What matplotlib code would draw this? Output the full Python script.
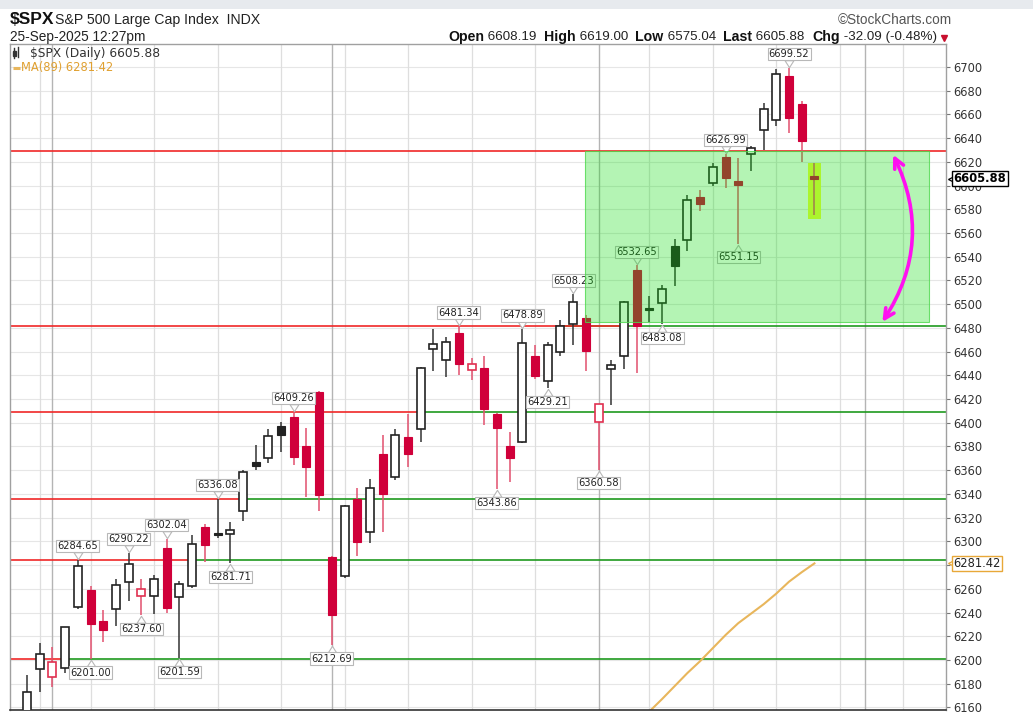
import matplotlib
matplotlib.use('Agg')
import matplotlib.pyplot as plt
import matplotlib.patches as mpatches
import matplotlib.transforms as mtransforms
from matplotlib.path import Path
from matplotlib.lines import Line2D

# ---------------- data ----------------
dates = ['06-27', '06-30', '07-01', '07-02', '07-03', '07-07', '07-08', '07-09', '07-10', '07-11',
         '07-14', '07-15', '07-16', '07-17', '07-18', '07-21', '07-22', '07-23', '07-24', '07-25',
         '07-28', '07-29', '07-30', '07-31', '08-01', '08-04', '08-05', '08-06', '08-07', '08-08',
         '08-11', '08-12', '08-13', '08-14', '08-15', '08-18', '08-19', '08-20', '08-21', '08-22',
         '08-25', '08-26', '08-27', '08-28', '08-29', '09-02', '09-03', '09-04', '09-05', '09-08',
         '09-09', '09-10', '09-11', '09-12', '09-15', '09-16', '09-17', '09-18', '09-19', '09-22',
         '09-23', '09-24', '09-25']
opens = [6150, 6192, 6186, 6193, 6245, 6259, 6233, 6243, 6266, 6254,
         6254, 6294, 6253, 6262, 6312, 6306.5, 6306, 6326, 6367, 6370,
         6397, 6405, 6380, 6426, 6287, 6271, 6336, 6308, 6374, 6354,
         6388, 6395, 6462, 6453, 6476, 6444.5, 6446, 6407, 6380, 6384,
         6456, 6435, 6460, 6483, 6488, 6401, 6445, 6456, 6529, 6497,
         6501, 6549, 6554, 6590, 6602, 6624, 6604, 6627, 6647, 6655,
         6692, 6669, 6608.19]
highs = [6187.7, 6214, 6210.8, 6228, 6284.65, 6262, 6242, 6268, 6290.22, 6268,
         6272, 6302.04, 6267, 6305, 6315, 6336.08, 6316, 6360, 6381, 6395,
         6401, 6409.26, 6396, 6427, 6288, 6330.5, 6345, 6353, 6390, 6395,
         6407, 6447, 6479, 6472, 6481.34, 6455, 6456, 6408, 6392, 6478.89,
         6466, 6468, 6487, 6508.23, 6491, 6416, 6453, 6503, 6532.65, 6507,
         6516, 6555, 6592, 6596, 6619, 6626.99, 6623, 6633, 6670, 6698,
         6699.52, 6671, 6619.00]
lows = [6140, 6173, 6177, 6189, 6243, 6201.00, 6215, 6229, 6250, 6237.60,
        6239, 6240, 6201.59, 6261, 6283, 6303, 6281.71, 6317, 6360, 6366,
        6375, 6364, 6337, 6326, 6212.69, 6269, 6288, 6299, 6308, 6352,
        6363, 6384, 6444, 6439, 6440, 6436, 6398, 6343.86, 6350, 6383,
        6437, 6429.21, 6456, 6466, 6444, 6360.58, 6415, 6445, 6442, 6485,
        6483.08, 6515, 6545, 6579, 6600, 6598, 6551.15, 6612, 6630, 6650,
        6644, 6620, 6575.04]
closes = [6173.1, 6205.0, 6198.0, 6227.4, 6279.4, 6230.0, 6225.5, 6263.3, 6280.5, 6259.8,
          6268.6, 6243.8, 6263.7, 6297.4, 6296.8, 6305.6, 6309.6, 6358.9, 6363.4, 6388.6,
          6389.8, 6370.9, 6362.9, 6339.4, 6238.0, 6329.9, 6299.2, 6345.1, 6340.0, 6389.5,
          6373.5, 6445.8, 6466.6, 6468.5, 6449.8, 6449.2, 6411.4, 6395.8, 6370.2, 6466.9,
          6439.3, 6465.9, 6481.4, 6501.9, 6460.3, 6415.5, 6448.3, 6502.1, 6481.5, 6495.2,
          6512.6, 6532.0, 6587.5, 6584.3, 6615.3, 6606.8, 6600.4, 6632.0, 6664.4, 6693.8,
          6656.9, 6638.0, 6605.88]
prior_close = 6141.0

ma_start = 47
ma89 = [6136, 6146, 6156.5, 6167, 6178, 6189, 6199, 6210, 6221, 6231,
        6239, 6247, 6256, 6266, 6274, 6281.42]

# price call-outs: (index, value, 'H' above / 'L' below)
callout_idx = [4, 5, 8, 9, 11, 12, 15, 16, 21, 24, 34, 37, 39, 41, 43, 45, 48, 50, 55, 56, 60]
callout_val = [6284.65, 6201.00, 6290.22, 6237.60, 6302.04, 6201.59, 6336.08, 6281.71, 6409.26,
               6212.69, 6481.34, 6343.86, 6478.89, 6429.21, 6508.23, 6360.58, 6532.65, 6483.08,
               6626.99, 6551.15, 6699.52]
callout_side = ['H', 'L', 'H', 'L', 'H', 'L', 'H', 'L', 'H', 'L', 'H', 'L', 'H', 'L', 'H', 'L',
                'H', 'L', 'H', 'L', 'H']

# horizontal levels: red part ends at red_end, green part starts at green_start (None = none)
levels = [6201.00, 6284.65, 6336.08, 6409.26, 6481.34, 6629.5]
red_end = [3.2, 13.07, 16.9, 31.0, 47.4, 72.4]
green_start = [3.2, 13.07, 16.9, 31.0, 42.1, None]

# highlight zone
zone_x = (43.95, 71.0)
zone_y = (6484.6, 6629.5)
today_box_x = (61.5, 62.5)
today_box_y = (6572, 6619)

# vertical grid: weekly (Mondays) and month starts
week_grid = [1, 5, 10, 15, 20, 25, 30, 35, 40, 49, 54, 59, 64, 69]
month_grid = [2, 24, 45, 66]
yticks = list(range(6160, 6701, 20))
hidden_tick = 6280   # covered by the MA value tag in the original

# ---------------- figure ----------------
W, H = 1033, 712
fig = plt.figure(figsize=(W / 100, H / 100), dpi=100)
fig.patch.set_facecolor('white')
ax = fig.add_axes([10 / W, 2 / H, 936 / W, 666 / H])
XMIN, XMAX = -1.34, 72.36
YMIN, YMAX = 6157.8, 6719.4
ax.set_xlim(XMIN, XMAX)
ax.set_ylim(YMIN, YMAX)

for s in ['left', 'right', 'top']:
    ax.spines[s].set_color('#a0a0a0')
    ax.spines[s].set_linewidth(1.0)
ax.spines['bottom'].set_color('#333333')
ax.spines['bottom'].set_linewidth(1.2)

ax.set_xticks([])
ax.yaxis.tick_right()
ax.set_yticks(yticks)
ax.set_yticklabels(['' if v == hidden_tick else str(v) for v in yticks])
ax.tick_params(axis='y', length=3, width=0.8, color='#777777', labelsize=8.3,
               labelcolor='#333333', pad=2)
for lab in ax.get_yticklabels():
    lab.set_family('DejaVu Sans')

for v in yticks:
    ax.axhline(v, color='#e6e6e6', lw=0.8, zorder=0)
for g in week_grid:
    ax.axvline(g, color='#dedede', lw=0.9, zorder=0)
for g in month_grid:
    ax.axvline(g, color='#b4b4b4', lw=1.0, zorder=0)

# support / resistance lines
for lv, re_, gs in zip(levels, red_end, green_start):
    if gs is not None:
        ax.plot([gs, XMAX], [lv, lv], color='#1f9a1f', lw=1.2, zorder=2, solid_capstyle='butt')
    ax.plot([XMIN, re_], [lv, lv], color='#f02828', lw=1.2, zorder=2.1, solid_capstyle='butt')

# today's highlight (under candles)
ax.add_patch(mpatches.Rectangle((today_box_x[0], today_box_y[0]), today_box_x[1] - today_box_x[0],
                                today_box_y[1] - today_box_y[0], facecolor='#f4ff3c',
                                edgecolor='none', zorder=2.6))

# moving average
ax.plot(range(ma_start, ma_start + len(ma89)), ma89, color='#e8b65c', lw=1.5, zorder=2.5)

# candles
RED = '#d0003a'
RED_WICK = '#e2506e'
BLK = '#222222'
bw = 0.63
for i, (o, h, l, c) in enumerate(zip(opens, highs, lows, closes)):
    pc = prior_close if i == 0 else closes[i - 1]
    up = c >= pc
    col = BLK if up else RED
    wcol = '#333333' if up else RED_WICK
    hollow = c > o
    ax.plot([i, i], [l, h], color=wcol, lw=1.1, zorder=3, solid_capstyle='butt')
    bot = min(o, c)
    ht = max(abs(c - o), 1.2)
    if hollow:
        ax.add_patch(mpatches.Rectangle((i - bw / 2, bot), bw, ht, facecolor='white',
                                        edgecolor=(BLK if up else '#e03050'), lw=1.2, zorder=4))
    else:
        ax.add_patch(mpatches.Rectangle((i - bw / 2, bot), bw, ht, facecolor=col,
                                        edgecolor=col, lw=0.8, zorder=4))

# call-out labels
tail_dn = Path([(-3.2, 5.6), (0, 0.6), (3.2, 5.6), (-3.2, 5.6)],
               [Path.MOVETO, Path.LINETO, Path.LINETO, Path.CLOSEPOLY])
tail_up = Path([(-3.2, -5.6), (0, -0.6), (3.2, -5.6), (-3.2, -5.6)],
               [Path.MOVETO, Path.LINETO, Path.LINETO, Path.CLOSEPOLY])
for i, v, sd in zip(callout_idx, callout_val, callout_side):
    if sd == 'H':
        ax.plot([i], [v], marker=tail_dn, ms=11.2, mfc='white', mec='#b8b8b8', mew=0.8,
                zorder=5, clip_on=False)
        ax.annotate(f'{v:.2f}', xy=(i, v), xytext=(0, 6.3), textcoords='offset points',
                    ha='center', va='bottom', fontsize=7.1, color='#222222', family='DejaVu Sans',
                    bbox=dict(boxstyle='square,pad=0.12', fc='white', ec='#b8b8b8', lw=0.8),
                    zorder=5.1, annotation_clip=False)
    else:
        ax.plot([i], [v], marker=tail_up, ms=11.2, mfc='white', mec='#b8b8b8', mew=0.8,
                zorder=5, clip_on=False)
        ax.annotate(f'{v:.2f}', xy=(i, v), xytext=(0, -6.3), textcoords='offset points',
                    ha='center', va='top', fontsize=7.1, color='#222222', family='DejaVu Sans',
                    bbox=dict(boxstyle='square,pad=0.12', fc='white', ec='#b8b8b8', lw=0.8),
                    zorder=5.1, annotation_clip=False)

# green zone (over candles)
ax.add_patch(mpatches.Rectangle((zone_x[0], zone_y[0]), zone_x[1] - zone_x[0], zone_y[1] - zone_y[0],
                                facecolor=(0.05, 0.87, 0.05, 0.31), edgecolor=(0.3, 0.85, 0.3, 0.8),
                                lw=0.8, zorder=6))

# magenta hand-drawn double arrow
ax.annotate('', xy=(67.35, 6485), xytext=(68.2, 6626),
            arrowprops=dict(arrowstyle='<->,head_length=0.7,head_width=0.35', color='#ff10f0',
                            lw=2.6, connectionstyle='arc3,rad=-0.28', shrinkA=0, shrinkB=0),
            zorder=8)

# right-side value tags
blend = mtransforms.blended_transform_factory(ax.transAxes, ax.transData)
last = closes[-1]
ax.plot([1.0], [last], marker='<', ms=6, mfc='white', mec='black', mew=0.9, clip_on=False,
        transform=mtransforms.offset_copy(blend, fig=fig, x=4.2, y=0, units='points'), zorder=9)
ax.annotate(f'{last:.2f}', xy=(1.0, last), xycoords=blend, xytext=(5.5, 0),
            textcoords='offset points', ha='left', va='center', fontsize=8.3, weight='bold',
            color='black', family='DejaVu Sans',
            bbox=dict(boxstyle='square,pad=0.1', fc='white', ec='black', lw=1.0),
            annotation_clip=False, zorder=10)
ma_last = ma89[-1]
ax.plot([1.0], [ma_last], marker='<', ms=6, mfc='white', mec='#e8a838', mew=0.9, clip_on=False,
        transform=mtransforms.offset_copy(blend, fig=fig, x=4.2, y=0, units='points'), zorder=9)
ax.annotate(f'{ma_last:.2f}', xy=(1.0, ma_last), xycoords=blend, xytext=(5.5, 0),
            textcoords='offset points', ha='left', va='center', fontsize=8.3,
            color='#222222', family='DejaVu Sans',
            bbox=dict(boxstyle='square,pad=0.1', fc='white', ec='#e8a838', lw=1.0),
            annotation_clip=False, zorder=10)

# in-plot legend
ax.text(20 / 936, 1 - 9 / 666, f'$SPX (Daily) {last:.2f}', transform=ax.transAxes,
        ha='left', va='center', fontsize=8.8, color='#333333', family='DejaVu Sans', zorder=10)
ax.plot([3 / 936, 10 / 936], [1 - 24 / 666, 1 - 24 / 666], transform=ax.transAxes,
        color='#e8b65c', lw=2.2, zorder=10, solid_capstyle='butt')
ax.text(11 / 936, 1 - 24 / 666, f'MA(89) {ma_last:.2f}', transform=ax.transAxes,
        ha='left', va='center', fontsize=8.3, color='#e0a030', family='DejaVu Sans', zorder=10)
# tiny candle icon
fig.add_artist(Line2D([14 / W, 14 / W], [1 - 48 / H, 1 - 58 / H], color='#333333', lw=1,
                      transform=fig.transFigure))
fig.add_artist(mpatches.Rectangle((12.5 / W, 1 - 56 / H), 3 / W, 5 / H, fc='#333333', ec='#333333',
                                  transform=fig.transFigure))
fig.add_artist(Line2D([18 / W, 18 / W], [1 - 47 / H, 1 - 57 / H], color='#333333', lw=1,
                      transform=fig.transFigure))

# ---------------- header ----------------
fig.add_artist(mpatches.Rectangle((0, 1 - 9 / H), 1, 9 / H, fc='#e7eaee', ec='none',
                                  transform=fig.transFigure))
NARROW = ['Liberation Sans Narrow', 'Liberation Sans', 'DejaVu Sans']
fig.text(10 / W, 1 - 20 / H, '$SPX', fontsize=12.5, weight='bold', family=NARROW,
         ha='left', va='center', color='#111111')
fig.text(55 / W, 1 - 20 / H, 'S&P 500 Large Cap Index  INDX', fontsize=10.2, family=NARROW,
         ha='left', va='center', color='#222222')
fig.text(952 / W, 1 - 20 / H, '\u00a9StockCharts.com', fontsize=9.8, family=NARROW,
         ha='right', va='center', color='#555555')
fig.text(10 / W, 1 - 37 / H, '25-Sep-2025 12:27pm', fontsize=9.8, family=NARROW,
         ha='left', va='center', color='#222222')

pieces = [('Open', True), (' 6608.19  ', False), ('High', True), (' 6619.00  ', False),
          ('Low', True), (' 6575.04  ', False), ('Last', True), (' 6605.88  ', False),
          ('Chg', True), (' -32.09 (-0.48%)', False)]
renderer = fig.canvas.get_renderer()
xr = 937
for txt, bold in reversed(pieces):
    t = fig.text(xr / W, 1 - 37 / H, txt, fontsize=10.2 if bold else 9.6,
                 weight='bold' if bold else 'normal', family=NARROW, ha='right', va='center',
                 color='#111111' if bold else '#222222')
    bb = t.get_window_extent(renderer=renderer)
    xr -= bb.width
fig.add_artist(Line2D([944 / W], [1 - 38 / H], marker='v', ms=5, color='#c8102e', ls='none',
                      transform=fig.transFigure))

fig.savefig('out.png', dpi=100, facecolor='white')
